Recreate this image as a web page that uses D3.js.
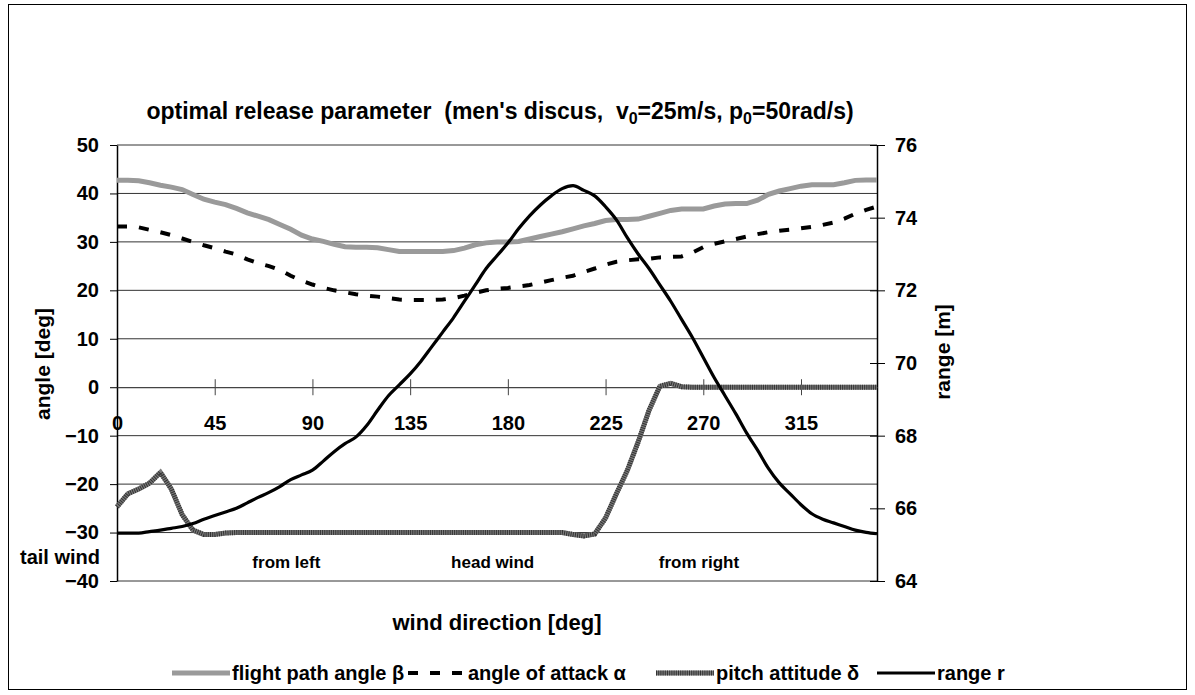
<!DOCTYPE html>
<html>
<head>
<meta charset="utf-8">
<script src="https://cdn.jsdelivr.net/npm/d3@7"></script>
<style>
  body { margin: 0; background: #fff; }
  text { font-family: "Liberation Sans", Arial, sans-serif; font-weight: bold; fill: #000; }
</style>
</head>
<body>
<svg id="chart" width="1195" height="695"></svg>
<script>
// wind direction samples (deg), every 5 degrees
var windDir = d3.range(0, 351, 5);

// flight path angle beta [deg]
var flightPath = [42.7, 42.7, 42.6, 42.2, 41.7, 41.3, 40.8, 39.8, 38.8, 38.2,
  37.7, 36.9, 36.0, 35.3, 34.6, 33.6, 32.6, 31.4, 30.6, 30.1,
  29.5, 29.0, 28.9, 28.9, 28.8, 28.4, 28.0, 28.0, 28.0, 28.0,
  28.0, 28.2, 28.7, 29.4, 29.8, 30.0, 30.0, 30.1, 30.6, 31.1,
  31.6, 32.1, 32.7, 33.3, 33.8, 34.4, 34.6, 34.6, 34.7, 35.3,
  35.9, 36.5, 36.8, 36.8, 36.8, 37.4, 37.8, 37.9, 37.9, 38.6,
  39.8, 40.5, 41.0, 41.5, 41.8, 41.8, 41.8, 42.2, 42.7, 42.8, 42.8];

// angle of attack alpha [deg]
var attack = [33.2, 33.2, 33.0, 32.5, 32.0, 31.4, 30.7, 30.0, 29.3, 28.7,
  28.0, 27.4, 26.4, 25.6, 25.0, 24.2, 23.0, 22.0, 21.2, 20.5,
  20.0, 19.6, 19.2, 18.9, 18.7, 18.4, 18.1, 18.0, 18.0, 18.0,
  18.1, 18.4, 18.9, 19.5, 20.0, 20.3, 20.5, 20.8, 21.1, 21.6,
  22.1, 22.6, 23.0, 23.8, 24.5, 25.3, 25.9, 26.2, 26.4, 26.5,
  26.8, 26.9, 27.0, 27.8, 28.9, 29.6, 30.1, 30.6, 31.1, 31.6,
  32.0, 32.3, 32.5, 32.8, 33.1, 33.5, 34.0, 34.8, 35.8, 36.6, 37.3];

// pitch attitude delta [deg]
var pitch = [-24.7, -22.0, -21.0, -19.8, -17.6, -21.0, -26.3, -29.5, -30.4, -30.4,
  -30.1, -30, -30, -30, -30, -30, -30, -30, -30, -30,
  -30, -30, -30, -30, -30, -30, -30, -30, -30, -30,
  -30, -30, -30, -30, -30, -30, -30, -30, -30, -30,
  -30, -30, -30.4, -30.7, -30.3, -27.0, -22.0, -17.2, -11.3, -4.8,
  0.2, 0.8, 0.1, 0, 0, 0, 0, 0, 0, 0,
  0, 0, 0, 0, 0, 0, 0, 0, 0, 0, 0];

// range r [m]
var range = [65.32, 65.32, 65.32, 65.36, 65.4, 65.45, 65.5, 65.58, 65.7, 65.8,
  65.9, 66.0, 66.15, 66.3, 66.44, 66.6, 66.79, 66.92, 67.05, 67.3,
  67.56, 67.78, 67.96, 68.28, 68.7, 69.1, 69.4, 69.7, 70.05, 70.45,
  70.85, 71.25, 71.7, 72.15, 72.6, 72.95, 73.3, 73.7, 74.05, 74.35,
  74.6, 74.8, 74.88, 74.75, 74.6, 74.3, 73.94, 73.45, 73.0, 72.6,
  72.15, 71.7, 71.2, 70.7, 70.15, 69.6, 69.1, 68.6, 68.07, 67.6,
  67.1, 66.7, 66.4, 66.1, 65.85, 65.7, 65.6, 65.5, 65.4, 65.34, 65.3];

var xTicks = [0, 45, 90, 135, 180, 225, 270, 315];
var leftTicks = d3.range(-40, 51, 10);
var rightTicks = d3.range(64, 77, 2);
var zones = [["from left", 78], ["head wind", 173], ["from right", 268]];
var legendNames = ["flight path angle \u03b2", "angle of attack \u03b1", "pitch attitude \u03b4", "range r"];

var svg = d3.select("#chart");

// outer frame
svg.append("rect")
  .attr("x", 8.5).attr("y", 4.5)
  .attr("width", 1178).attr("height", 685)
  .attr("fill", "none").attr("stroke", "#000").attr("stroke-width", 1);

var x = d3.scaleLinear().domain([0, 350]).range([117, 877]);
var yL = d3.scaleLinear().domain([-40, 50]).range([581, 145]);
var yR = d3.scaleLinear().domain([64, 76]).range([581, 145]);

// gridlines
svg.append("g")
  .selectAll("line")
  .data(leftTicks.filter(function (d) { return d != 0; }))
  .enter()
  .append("line")
  .attr("x1", x(0)).attr("x2", x(350))
  .attr("y1", function (d) { return yL(d); })
  .attr("y2", function (d) { return yL(d); })
  .attr("stroke", "#333").attr("stroke-width", 1);

// left axis
var leftAxis = svg.append("g")
  .attr("transform", "translate(" + x(0) + ",0)")
  .call(d3.axisLeft(yL).tickValues(leftTicks).tickSize(7).tickPadding(11).tickSizeOuter(0));
leftAxis.selectAll("text").style("font-size", "20px");

// right axis with ticks crossing the line
var rightAxis = svg.append("g")
  .attr("transform", "translate(" + x(350) + ",0)")
  .call(d3.axisRight(yR).tickValues(rightTicks).tickSize(8).tickPadding(10).tickSizeOuter(0));
rightAxis.selectAll(".tick line").attr("x1", -7);
rightAxis.selectAll("text").style("font-size", "20px");
svg.selectAll(".domain").attr("stroke", "#000").attr("stroke-width", 1.5);

// x axis sits on angle = 0
var xAxis = svg.append("g")
  .attr("transform", "translate(0," + yL(0) + ")")
  .call(d3.axisBottom(x).tickValues(xTicks).tickSize(8).tickSizeOuter(0));
xAxis.select(".domain").attr("stroke", "#444").attr("stroke-width", 1.2);
xAxis.selectAll(".tick line").attr("y1", -8).attr("stroke", "#444");
xAxis.selectAll(".tick").filter(function (d) { return d == 0; }).select("line").remove();
xAxis.selectAll("text")
  .style("font-size", "20px")
  .attr("y", 36).attr("dy", "0.35em");

// series
var lineL = function (vals, curve) {
  return d3.line()
    .curve(curve || d3.curveLinear)
    .x(function (d, i) { return x(windDir[i]); })
    .y(function (d) { return yL(d); })(vals);
};

svg.append("path")
  .attr("d", lineL(flightPath))
  .attr("fill", "none").attr("stroke", "#9a9a9a").attr("stroke-width", 5);

svg.append("path")
  .attr("d", lineL(attack))
  .attr("fill", "none").attr("stroke", "#000").attr("stroke-width", 4)
  .attr("stroke-dasharray", "10,12");

svg.append("path")
  .attr("d", lineL(pitch))
  .attr("fill", "none").attr("stroke", "#7a7a7a").attr("stroke-width", 5);
svg.append("path")
  .attr("d", lineL(pitch))
  .attr("fill", "none").attr("stroke", "#333").attr("stroke-width", 5)
  .attr("stroke-dasharray", "1,1.2");

var lineR = d3.line()
  .curve(d3.curveMonotoneX)
  .x(function (d, i) { return x(windDir[i]); })
  .y(function (d) { return yR(d); });
svg.append("path")
  .attr("d", lineR(range))
  .attr("fill", "none").attr("stroke", "#000").attr("stroke-width", 3.2);

// title
var title = svg.append("text")
  .attr("x", 500).attr("y", 119)
  .attr("text-anchor", "middle")
  .style("font-size", "23px")
  .style("white-space", "pre");
title.append("tspan").text("optimal release parameter  (men's discus,  v");
title.append("tspan").attr("dy", 5).style("font-size", "16px").text("0");
title.append("tspan").attr("dy", -5).text("=25m/s, p");
title.append("tspan").attr("dy", 5).style("font-size", "16px").text("0");
title.append("tspan").attr("dy", -5).text("=50rad/s)");

// axis titles
svg.append("text")
  .attr("transform", "translate(50,364) rotate(-90)")
  .attr("text-anchor", "middle")
  .style("font-size", "21px")
  .text("angle [deg]");
svg.append("text")
  .attr("transform", "translate(950,352) rotate(-90)")
  .attr("text-anchor", "middle")
  .style("font-size", "21px")
  .text("range [m]");
svg.append("text")
  .attr("x", 497).attr("y", 630)
  .attr("text-anchor", "middle")
  .style("font-size", "22px")
  .text("wind direction [deg]");

// wind zone notes
svg.append("text")
  .attr("x", 100).attr("y", 564)
  .attr("text-anchor", "end")
  .style("font-size", "20px")
  .text("tail wind");
svg.append("g")
  .selectAll("text")
  .data(zones)
  .enter()
  .append("text")
  .attr("x", function (d) { return x(d[1]); })
  .attr("y", 568)
  .attr("text-anchor", "middle")
  .style("font-size", "17px")
  .text(function (d) { return d[0]; });

// legend
var legendX = [172, 408, 656, 877];
var lg = svg.append("g").attr("transform", "translate(0,673)");
var styles = [
  { stroke: "#9a9a9a", w: 5 },
  { stroke: "#000", w: 4, dash: "10,12" },
  { stroke: "#7a7a7a", w: 5 },
  { stroke: "#000", w: 3.2 }
];
legendNames.forEach(function (name, i) {
  lg.append("line")
    .attr("x1", legendX[i]).attr("x2", legendX[i] + 58)
    .attr("y1", 0).attr("y2", 0)
    .attr("stroke", styles[i].stroke).attr("stroke-width", styles[i].w)
    .attr("stroke-dasharray", styles[i].dash || null);
  if (i == 2) {
    lg.append("line")
      .attr("x1", legendX[i]).attr("x2", legendX[i] + 58)
      .attr("y1", 0).attr("y2", 0)
      .attr("stroke", "#333").attr("stroke-width", 5)
      .attr("stroke-dasharray", "1,1.2");
  }
  lg.append("text")
    .attr("x", legendX[i] + 60).attr("y", 0).attr("dy", "0.35em")
    .style("font-size", "20px")
    .text(name);
});
</script>
</body>
</html>
